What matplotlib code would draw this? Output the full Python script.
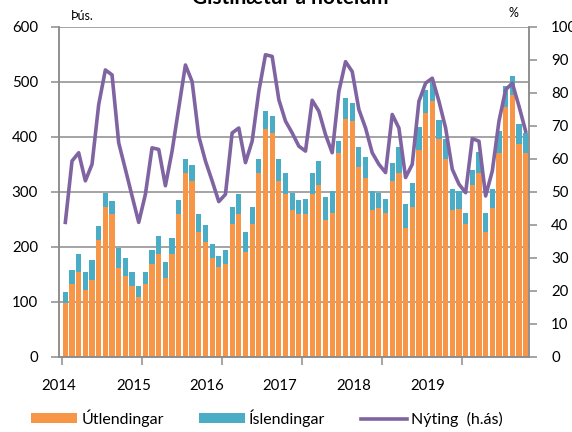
import numpy as np
import matplotlib
matplotlib.use('Agg')
import matplotlib.pyplot as plt

plt.rcParams['font.family'] = ['Lato', 'DejaVu Sans']

# monthly data, Jan 2014 - Oct 2019 (thous. nights)
utlendingar = [98, 133, 154, 122, 140, 212, 273, 259, 161, 147, 129, 108,
               133, 169, 187, 143, 187, 259, 334, 319, 227, 209, 180, 163,
               169, 241, 259, 191, 241, 334, 414, 407, 320, 295, 267, 259,
               259, 295, 313, 248, 262, 370, 432, 428, 345, 324, 267, 270,
               262, 320, 334, 234, 273, 375, 443, 464, 396, 360, 267, 268,
               241, 313, 334, 226, 270, 370, 454, 475, 386, 370]
islendingar = [19, 25, 33, 32, 36, 25, 25, 24, 36, 33, 25, 20,
               21, 25, 32, 29, 28, 25, 26, 29, 32, 31, 25, 20,
               25, 32, 36, 35, 32, 26, 32, 31, 40, 39, 31, 25,
               28, 39, 42, 43, 40, 22, 39, 33, 36, 39, 35, 28,
               25, 32, 47, 43, 43, 42, 42, 36, 35, 36, 38, 34,
               21, 27, 39, 36, 35, 40, 38, 36, 37, 37]
# occupancy, % (right axis)
nyting = [40.7, 59.3, 61.8, 53.3, 58.3, 76.4, 86.9, 85.4, 64.8, 56.8, 48.7, 40.7,
          49.2, 63.3, 62.8, 51.8, 62.3, 75.4, 88.4, 83.4, 66.8, 59.3, 53.3, 47.0,
          49.2, 67.8, 69.3, 58.8, 65.3, 80.4, 91.5, 91.0, 77.9, 71.4, 67.8, 63.8,
          62.3, 77.7, 74.4, 67.3, 61.8, 80.4, 89.4, 86.4, 74.9, 69.3, 61.8, 58.3,
          55.8, 73.4, 69.3, 54.3, 58.3, 77.4, 82.9, 84.4, 77.4, 69.3, 56.8, 52.3,
          49.7, 66.1, 65.3, 48.7, 56.3, 71.4, 80.9, 82.9, 75.9, 68.3]
years = ['2014', '2015', '2016', '2017', '2018', '2019']

orange = '#F79646'
teal = '#4BACC6'
purple = '#8064A2'
gray = '#8C8C8C'

x = np.arange(len(utlendingar))

fig = plt.figure(figsize=(5.72, 4.32), dpi=100)
ax = fig.add_axes([59/572, 1-356.7/432, 470/572, 330/432])

ax.bar(x, utlendingar, width=0.78, color=orange, label='Útlendingar', zorder=2)
ax.bar(x, islendingar, width=0.78, bottom=utlendingar, color=teal,
       label='Íslendingar', zorder=2)

ax.set_ylim(0, 600)
ax.set_xlim(-0.5, len(x) - 0.5)
ax.set_yticks(np.arange(0, 601, 100))
ax.yaxis.grid(True, color=gray, lw=1.1, zorder=0)
ax.set_axisbelow(True)

ax.set_xticks(np.arange(-0.5, len(x), 12))
ax.set_xticklabels([])
ax.set_xticks([-0.95, 10.23, 21.26, 32.1, 43.2, 54.3], minor=True)
ax.set_xticklabels(years, minor=True)
ax.tick_params(axis='x', which='major', length=6, width=1.1, color=gray)
ax.tick_params(axis='x', which='minor', length=0, pad=16, labelsize=10.8)
ax.tick_params(axis='y', length=6, width=1.1, color=gray, pad=9, labelsize=10.8)

for s in ['left', 'bottom', 'right']:
    ax.spines[s].set_color(gray)
    ax.spines[s].set_linewidth(1.1)
ax.spines['top'].set_visible(False)

ax2 = ax.twinx()
ax2.plot(x, nyting, color=purple, lw=2.6, label='Nýting  (h.ás)', zorder=3)
ax2.set_ylim(0, 100)
ax2.set_yticks(np.arange(0, 101, 10))
ax2.tick_params(axis='y', length=6, width=1.1, color=gray, pad=10, labelsize=10.8)
for s in ['left', 'bottom', 'right']:
    ax2.spines[s].set_color(gray)
    ax2.spines[s].set_linewidth(1.1)
ax2.spines['top'].set_visible(False)

fig.text(71/572, 1-16/432, 'Þús.', fontsize=9, va='center', ha='left')
fig.text(513/572, 1-13/432, '%', fontsize=9, va='center', ha='center')
fig.text(290/572, 1-4.5/432, 'Gistinætur á hótelum', fontsize=15,
         fontweight='bold', ha='center', va='baseline')

h1, l1 = ax.get_legend_handles_labels()
h2, l2 = ax2.get_legend_handles_labels()
fig.legend(h1 + h2, l1 + l2, loc='center left', bbox_to_anchor=(31/572, 1-418/432),
           ncol=3, frameon=False, fontsize=11.5, handlelength=2.9,
           handleheight=0.55, columnspacing=2.2, handletextpad=0.25,
           borderpad=0, borderaxespad=0)

fig.savefig('out.png', dpi=100)
